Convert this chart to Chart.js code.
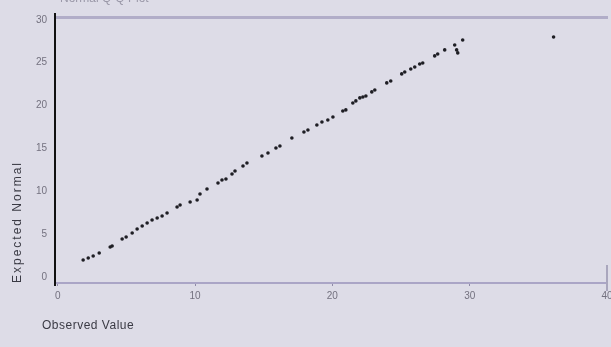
<!DOCTYPE html>
<html><head><meta charset="utf-8">
<script src="https://cdn.jsdelivr.net/npm/chart.js@4/dist/chart.umd.min.js"></script>
<style>html,body{margin:0;padding:0;background:#dddce7;overflow:hidden}#wrap{width:611px;height:347px;position:relative}</style>
</head><body><div id="wrap"><canvas id="c" width="611" height="347"></canvas></div>
<script>
const chartTitle = "Normal Q-Q Plot";
const xAxisTitle = "Observed Value";
const yAxisTitle = "Expected Normal";
const xTickValues = [0, 10, 20, 30, 40];
const yTickValues = [0, 5, 10, 15, 20, 25, 30];
const observedValues = [1.85,2.22,2.58,3.02,3.82,3.96,4.69,4.98,5.42,5.78,6.15,6.51,6.87,7.24,7.6,7.96,8.69,8.91,9.64,10.15,10.36,10.87,11.67,11.96,12.25,12.69,12.91,13.49,13.78,14.87,15.31,15.89,16.18,17.05,17.93,18.22,18.87,19.24,19.67,20.04,20.76,20.98,21.49,21.71,22.0,22.22,22.44,22.87,23.09,23.96,24.25,25.05,25.27,25.71,26.0,26.36,26.58,27.45,27.67,28.18,28.91,29.05,29.13,29.49,36.11];
const expectedNormal = [1.98,2.22,2.45,2.8,3.5,3.62,4.43,4.67,5.13,5.6,5.95,6.3,6.65,6.88,7.12,7.47,8.17,8.4,8.75,8.98,9.68,10.27,10.97,11.32,11.44,12.02,12.37,12.95,13.3,14.12,14.47,15.05,15.29,16.22,16.92,17.15,17.74,18.09,18.32,18.67,19.37,19.49,20.3,20.54,20.89,21.0,21.12,21.59,21.82,22.64,22.87,23.69,23.92,24.27,24.5,24.85,24.97,25.79,26.02,26.49,27.07,26.49,26.14,27.65,28.0];

const points = observedValues.map((v, i) => ({x: v, y: expectedNormal[i]}));

const decor = {
  id: 'decor',
  beforeDraw(chart) {
    const ctx = chart.ctx;
    ctx.save();
    ctx.fillStyle = '#dddce7';
    ctx.fillRect(0, 0, chart.width, chart.height);
    ctx.restore();
  },
  afterDraw(chart) {
    const ctx = chart.ctx;
    const a = chart.chartArea;
    ctx.save();
    ctx.fillStyle = '#9a98a8';
    ctx.font = '12px "Liberation Sans", Arial, sans-serif';
    ctx.textBaseline = 'bottom';
    ctx.textAlign = 'left';
    ctx.fillText(chartTitle, 60, 5);
    ctx.fillStyle = '#3a3a44';
    ctx.letterSpacing = '0.5px';
    ctx.textBaseline = 'middle';
    ctx.fillText(xAxisTitle, 42, 326);
    ctx.translate(18, 222);
    ctx.rotate(-Math.PI / 2);
    ctx.textAlign = 'center';
    ctx.letterSpacing = '2px';
    ctx.fillText(yAxisTitle, 0, 0);
    ctx.restore();
    // frame extensions
    ctx.save();
    ctx.strokeStyle = '#a9a6bd';
    ctx.lineWidth = 2;
    ctx.beginPath();
    ctx.moveTo(a.right, a.bottom - 18);
    ctx.lineTo(a.right, a.bottom + 8);
    ctx.stroke();
    ctx.strokeStyle = '#111111';
    ctx.beginPath();
    ctx.moveTo(a.left, a.top - 4);
    ctx.lineTo(a.left, a.bottom + 3);
    ctx.stroke();
    ctx.restore();
  }
};

new Chart(document.getElementById('c'), {
  type: 'scatter',
  data: {
    datasets: [{
      data: points,
      backgroundColor: '#1e1e24',
      borderWidth: 0,
      pointRadius: 1.8
    }]
  },
  options: {
    responsive: false,
    devicePixelRatio: 1,
    animation: false,
    layout: {padding: {top: 17, right: 3, left: 0, bottom: 0}},
    plugins: {legend: {display: false}, tooltip: {enabled: false}, title: {display: false}},
    scales: {
      x: {
        type: 'linear', min: -0.2, max: 40,
        afterBuildTicks: s => { s.ticks = xTickValues.map(v => ({value: v})); },
        afterFit: s => { s.height = 64; s.paddingLeft = 0; s.paddingRight = 0; },
        ticks: {color: '#73717f', font: {size: 10, family: '"Liberation Sans", Arial, sans-serif'}, padding: 4},
        grid: {drawOnChartArea: false, drawTicks: true, tickLength: 3, color: '#8f8aa8', lineWidth: 1},
        border: {color: '#aaa5c6', width: 2}
      },
      xTop: {
        type: 'linear', position: 'top', min: -0.2, max: 40,
        afterFit: s => { s.height = 0; s.paddingLeft = 0; s.paddingRight = 0; },
        ticks: {display: false},
        grid: {display: false, drawTicks: false},
        border: {color: '#b1adc8', width: 3}
      },
      y: {
        type: 'linear', min: -0.7, max: 30.33,
        afterBuildTicks: s => { s.ticks = yTickValues.map(v => ({value: v})); },
        afterFit: s => { s.width = 55; s.paddingTop = 0; s.paddingBottom = 0; },
        ticks: {color: '#73717f', font: {size: 10, family: '"Liberation Sans", Arial, sans-serif'}, padding: 8},
        grid: {drawOnChartArea: false, drawTicks: false},
        border: {color: '#111111', width: 2}
      }
    }
  },
  plugins: [decor]
});
</script></body></html>
